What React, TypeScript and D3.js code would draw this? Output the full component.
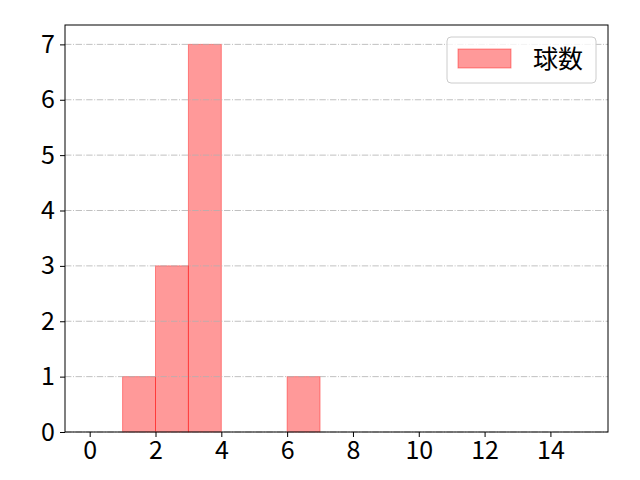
import { useEffect, useRef } from 'react';
import * as d3 from 'd3';

// histogram bins (left edge, width 1) and their counts
const binEdges = [0, 1, 2, 3, 4, 5, 6, 7, 8, 9, 10, 11, 12, 13, 14];
const counts = [0, 1, 3, 7, 0, 0, 1, 0, 0, 0, 0, 0, 0, 0, 0];
const xTicks = [0, 2, 4, 6, 8, 10, 12, 14];
const yTicks = [0, 1, 2, 3, 4, 5, 6, 7];
const seriesLabel = '球数';

const width = 640;
const height = 480;

export default function App() {
  const svgRef = useRef<SVGSVGElement>(null);

  useEffect(() => {
    document.body.style.margin = '0';
    if (!svgRef.current) return;

    d3.select(svgRef.current).selectAll('*').remove();

    const margin = { top: 25, right: 32, bottom: 48, left: 65 };
    const innerWidth = width - margin.left - margin.right;
    const innerHeight = height - margin.top - margin.bottom;
    const font = '"Noto Sans CJK JP", "DejaVu Sans", sans-serif';

    const svg = d3.select(svgRef.current)
      .attr('width', width)
      .attr('height', height);

    svg.append('rect')
      .attr('width', width)
      .attr('height', height)
      .attr('fill', '#fff');

    const g = svg.append('g')
      .attr('transform', `translate(${margin.left},${margin.top})`);

    const x = d3.scaleLinear().domain([-0.75, 15.75]).range([0, innerWidth]);
    const y = d3.scaleLinear().domain([0, 7.35]).range([innerHeight, 0]);

    const bins = binEdges
      .map((x0, i) => ({ x0, x1: x0 + 1, count: counts[i] }))
      .filter(d => d.count > 0);

    // Bars
    g.selectAll('.bar')
      .data(bins)
      .join('rect')
      .attr('class', 'bar')
      .attr('x', d => x(d.x0))
      .attr('y', d => y(d.count))
      .attr('width', d => x(d.x1) - x(d.x0))
      .attr('height', d => y(0) - y(d.count))
      .attr('fill', '#ff0000')
      .attr('fill-opacity', 0.4)
      .attr('stroke', '#ff0000')
      .attr('stroke-opacity', 0.4)
      .attr('stroke-width', 1);

    // Horizontal grid (drawn above the bars)
    g.append('g')
      .selectAll('line')
      .data(yTicks)
      .join('line')
      .attr('x1', 0)
      .attr('x2', innerWidth)
      .attr('y1', d => y(d))
      .attr('y2', d => y(d))
      .attr('stroke', '#b0b0b0')
      .attr('stroke-width', 0.8)
      .attr('stroke-dasharray', '6.4,1.6,1,1.6');

    // Frame
    g.append('rect')
      .attr('width', innerWidth)
      .attr('height', innerHeight)
      .attr('fill', 'none')
      .attr('stroke', '#000')
      .attr('stroke-width', 1);

    // X axis
    const xAxis = g.append('g')
      .attr('transform', `translate(0,${innerHeight})`)
      .call(d3.axisBottom(x).tickValues(xTicks).tickSize(5).tickPadding(4).tickFormat(d3.format('d')));
    xAxis.select('.domain').remove();
    xAxis.selectAll('text')
      .attr('font-family', font)
      .attr('font-size', '25px')
      .attr('fill', '#000');

    // Y axis
    const yAxis = g.append('g')
      .call(d3.axisLeft(y).tickValues(yTicks).tickSize(5).tickPadding(5).tickFormat(d3.format('d')));
    yAxis.select('.domain').remove();
    yAxis.selectAll('text')
      .attr('font-family', font)
      .attr('font-size', '25px')
      .attr('fill', '#000');

    // Legend
    const legend = svg.append('g')
      .attr('transform', 'translate(447,37)');

    legend.append('rect')
      .attr('width', 149)
      .attr('height', 46)
      .attr('rx', 4)
      .attr('fill', '#fff')
      .attr('fill-opacity', 0.8)
      .attr('stroke', '#cccccc')
      .attr('stroke-width', 1);

    legend.append('rect')
      .attr('x', 11)
      .attr('y', 12)
      .attr('width', 53)
      .attr('height', 19)
      .attr('fill', '#ff0000')
      .attr('fill-opacity', 0.4)
      .attr('stroke', '#ff0000')
      .attr('stroke-opacity', 0.4);

    legend.append('text')
      .attr('x', 86)
      .attr('y', 22)
      .attr('dy', '0.35em')
      .attr('font-family', font)
      .attr('font-size', '25px')
      .attr('fill', '#000')
      .text(seriesLabel);
  }, []);

  return <svg ref={svgRef} style={{ display: 'block' }} />;
}
